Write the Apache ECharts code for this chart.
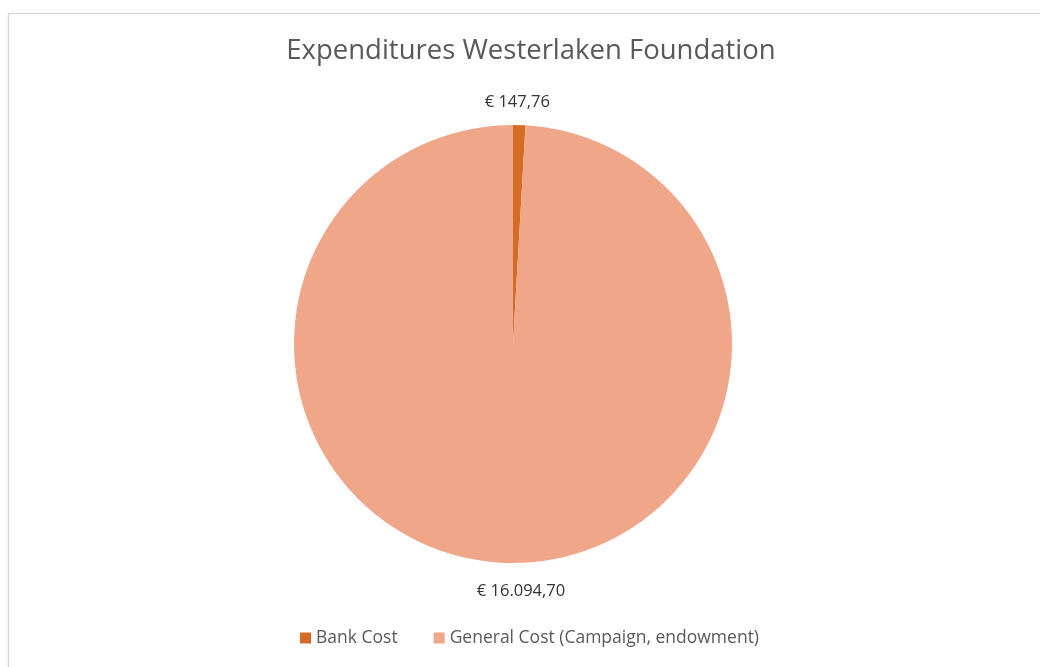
<!DOCTYPE html>
<html><head><meta charset="utf-8">
<script src="https://cdn.jsdelivr.net/npm/echarts@6/dist/echarts.min.js"></script>
<style>html,body{margin:0;padding:0;background:#fff}#c{width:1040px;height:667px}</style>
</head><body><div id="c"></div>
<script>
const categories = ['Bank Cost', 'General Cost (Campaign, endowment)'];
const values = [147.76, 16094.70];
const labelTexts = ['€ 147,76', '€ 16.094,70'];
const colors = ['#D46C26', '#F0A688'];

const chart = echarts.init(document.getElementById('c'));
const font = '"Open Sans", "Noto Sans", sans-serif';
chart.setOption({
  animation: false,
  backgroundColor: '#fff',
  title: {
    text: 'Expenditures Westerlaken Foundation',
    left: 526, top: 32, textAlign: 'center',
    textStyle: { fontFamily: font, fontSize: 27.5, fontWeight: 'normal', color: '#595959' }
  },
  graphic: [{
    type: 'rect', silent: true, z: -1,
    shape: { x: 8.5, y: 13.5, width: 1100, height: 700 },
    style: { fill: 'none', stroke: '#d9d9d9', lineWidth: 1.5 }
  }],
  legend: {
    bottom: 15, left: 295,
    itemWidth: 11, itemHeight: 11, itemGap: 36,
    icon: 'rect',
    textStyle: { fontFamily: font, fontSize: 17.5, color: '#595959', padding: [0, 0, 0, 0] },
    data: categories
  },
  series: [{
    type: 'pie',
    center: [513, 344],
    radius: 219,
    startAngle: 90,
    clockwise: true,
    avoidLabelOverlap: false,
    itemStyle: { borderColor: '#fff', borderWidth: 0 },
    label: {
      show: true, position: 'outside',
      fontFamily: font, fontSize: 16.5, color: '#333333',
      formatter: p => labelTexts[p.dataIndex]
    },
    labelLine: { show: false, length: 10, length2: 0 },
    labelLayout: function (p) {
      const r = p.rect;
      if (p.dataIndex === 0) {
        return { x: r.x + r.width / 2 - 2, y: r.y - 23, align: 'center', verticalAlign: 'middle' };
      }
      return { x: r.x + r.width / 2 + 8, y: r.y + r.height + 28, align: 'center', verticalAlign: 'middle' };
    },
    data: categories.map((n, i) => ({ name: n, value: values[i], itemStyle: { color: colors[i] } }))
  }]
});
</script></body></html>
